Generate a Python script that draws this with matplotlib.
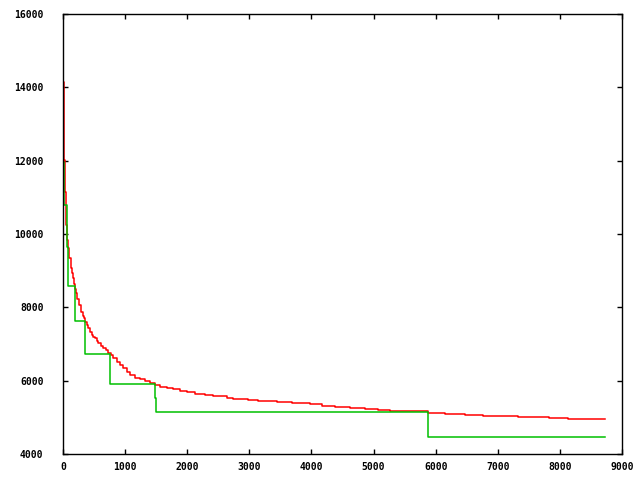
import matplotlib
matplotlib.use("Agg")
import matplotlib.pyplot as plt

# red series (step curve breakpoints)
red_x = [0, 10, 21, 24, 37, 48, 64, 80, 97, 121, 145, 161, 185, 201, 217, 233, 258,
         290, 317, 338, 359, 382, 407, 435, 462, 488, 515, 543, 568, 607, 649, 692,
         729, 768, 810, 865, 918, 971, 1026, 1079, 1159, 1240, 1320, 1401, 1481,
         1562, 1670, 1776, 1884, 1992, 2125, 2286, 2420, 2636, 2737, 2979, 3140,
         3441, 3682, 3977, 4165, 4379, 4621, 4862, 5076, 5265, 5881, 6148, 6472,
         6757, 7330, 7829, 8135, 8726]
red_y = [14145, 11963, 12727, 12018, 11145, 10245, 9836, 9618, 9345, 9072, 8936, 8800,
         8636, 8500, 8390, 8227, 8063, 7881, 7763, 7700, 7608, 7518, 7428, 7335, 7245,
         7199, 7155, 7090, 7019, 6945, 6882, 6836, 6762, 6700, 6610, 6517, 6427, 6337,
         6244, 6154, 6081, 6037, 5991, 5944, 5882, 5836, 5790, 5763, 5727, 5690, 5636,
         5609, 5582, 5536, 5500, 5473, 5445, 5409, 5382, 5354, 5309, 5273, 5245, 5218,
         5191, 5163, 5109, 5082, 5054, 5027, 5000, 4972, 4945, 4945]

# green series (step curve breakpoints)
green_x = [0, 8, 24, 59, 85, 198, 354, 761, 1481, 1502, 5881, 8726]
green_y = [13245, 11977, 10790, 9636, 8590, 7627, 6727, 5909, 5527, 5137, 4455, 4455]

x_ticks = [0, 1000, 2000, 3000, 4000, 5000, 6000, 7000, 8000, 9000]
y_ticks = [4000, 6000, 8000, 10000, 12000, 14000, 16000]

fig = plt.figure(figsize=(6.4, 4.8), dpi=100)
ax = fig.add_axes([63/640, 26/480, 559/640, 440/480])

ax.plot(red_x, red_y, drawstyle="steps-post", color="#ff0000", lw=1.1)
ax.plot(green_x, green_y, drawstyle="steps-post", color="#00c000", lw=1.1)

ax.set_xlim(0, 9000)
ax.set_ylim(4000, 16000)
ax.set_xticks(x_ticks)
ax.set_yticks(y_ticks)
ax.set_xticklabels([str(t) for t in x_ticks])
ax.set_yticklabels([str(t) for t in y_ticks])

for s in ax.spines.values():
    s.set_linewidth(1.0)
    s.set_color("black")

ax.tick_params(direction="in", length=3.6, width=1.0, top=True, right=True,
               colors="black")
ax.tick_params(axis="y", pad=14)
ax.tick_params(axis="x", pad=6)
for lab in ax.get_xticklabels() + ax.get_yticklabels():
    lab.set_fontfamily("DejaVu Sans Mono")
    lab.set_fontweight("bold")
    lab.set_fontsize(7)

fig.savefig("out.png", dpi=100)
